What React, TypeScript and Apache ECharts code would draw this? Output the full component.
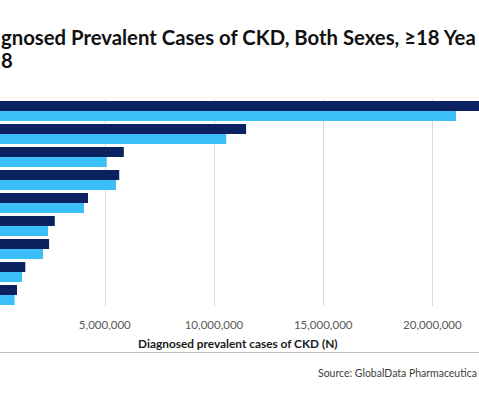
import React, { useEffect, useRef } from "react";
import * as echarts from "echarts";

const categories = ["US", "China", "Japan", "Germany", "Italy", "France", "UK", "Spain", "Canada"];
const series2028 = [23000000, 11470000, 5870000, 5660000, 4230000, 2710000, 2450000, 1360000, 980000];
const series2018 = [21080000, 10560000, 5090000, 5510000, 4050000, 2400000, 2170000, 1210000, 870000];
const seriesNames = ["2028", "2018"];
const xMax = 25000000;
const xInterval = 5000000;

// Texts exactly as much as the (cropped) reference shows
const titleLine1 = "gnosed Prevalent Cases of CKD, Both Sexes, \u226518 Yea";
const titleLine2 = "8";
const axisTitle = "Diagnosed prevalent cases of CKD (N)";
const sourceText = "Source: GlobalData Pharmaceutica";

const OFFSET = 60;
const FULL_W = 639;
const FONT = "Lato, 'Open Sans', sans-serif";

function fitSize(text: string, weight: string, target: number): number {
  const c = document.createElement("canvas").getContext("2d");
  if (!c) return 12;
  c.font = `${weight} 20px Lato`;
  const w = c.measureText(text).width;
  return w > 0 ? (20 * target) / w : 12;
}

export default function App() {
  const ref = useRef<HTMLDivElement>(null);
  useEffect(() => {
    if (!ref.current) return;
    document.body.style.margin = "0";
    const chart = echarts.init(ref.current, undefined, { renderer: "svg" });
    const titleSize = fitSize(titleLine1, "bold", 476);
    const axisTitleSize = fitSize(axisTitle, "bold", 200);
    const sourceSize = fitSize(sourceText, "normal", 159);
    chart.setOption({
      animation: false,
      backgroundColor: "#ffffff",
      grid: { left: OFFSET - 4.4, top: 99.5, height: 207, width: 546 },
      xAxis: {
        type: "value",
        min: 0,
        max: xMax,
        interval: xInterval,
        axisLine: { show: false },
        axisTick: { show: false },
        splitLine: { show: true, lineStyle: { color: "#d9d9d9", width: 1 } },
        axisLabel: {
          color: "#595959",
          fontFamily: FONT,
          fontSize: 11.5,
          margin: 12,
          showMinLabel: false,
          showMaxLabel: false,
          formatter: (v: number) => v.toLocaleString("en-US"),
        },
      },
      yAxis: {
        type: "category",
        data: categories,
        inverse: true,
        axisLine: { show: false },
        axisTick: { show: false },
        axisLabel: { show: false },
      },
      series: [
        {
          name: seriesNames[0],
          type: "bar",
          data: series2028,
          barWidth: 10,
          barGap: "0%",
          itemStyle: { color: "#0b2160" },
        },
        {
          name: seriesNames[1],
          type: "bar",
          data: series2018,
          barWidth: 10,
          itemStyle: { color: "#3abff8" },
        },
      ],
      graphic: [
        {
          type: "text",
          x: OFFSET + 1,
          y: 37,
          style: {
            text: titleLine1,
            fontFamily: FONT,
            fontWeight: "bold",
            fontSize: titleSize,
            fill: "#111111",
            verticalAlign: "middle",
          },
        },
        {
          type: "text",
          x: OFFSET + 1,
          y: 59.5,
          style: {
            text: titleLine2,
            fontFamily: FONT,
            fontWeight: "bold",
            fontSize: titleSize,
            fill: "#111111",
            verticalAlign: "middle",
          },
        },
        {
          type: "line",
          shape: { x1: 0, y1: 97.5, x2: FULL_W, y2: 97.5 },
          style: { stroke: "#f4f3e4", lineWidth: 1 },
        },
        {
          type: "text",
          x: OFFSET + 237.8,
          y: 343,
          style: {
            text: axisTitle,
            fontFamily: FONT,
            fontWeight: "bold",
            fontSize: axisTitleSize,
            fill: "#1a1a1a",
            align: "center",
            verticalAlign: "middle",
          },
        },
        {
          type: "line",
          shape: { x1: 0, y1: 352.5, x2: FULL_W, y2: 352.5 },
          style: { stroke: "#bfbfbf", lineWidth: 1 },
        },
        {
          type: "text",
          x: OFFSET + 318,
          y: 372.7,
          style: {
            text: sourceText,
            fontFamily: FONT,
            fontSize: sourceSize,
            fill: "#404040",
            verticalAlign: "middle",
          },
        },
      ],
    });
    return () => chart.dispose();
  }, []);
  return (
    <div
      style={{
        position: "fixed",
        left: 0,
        top: 0,
        width: 479,
        height: 400,
        overflow: "hidden",
        background: "#ffffff",
      }}
    >
      <div ref={ref} style={{ position: "absolute", left: -OFFSET, top: 0, width: FULL_W, height: 400 }} />
    </div>
  );
}
